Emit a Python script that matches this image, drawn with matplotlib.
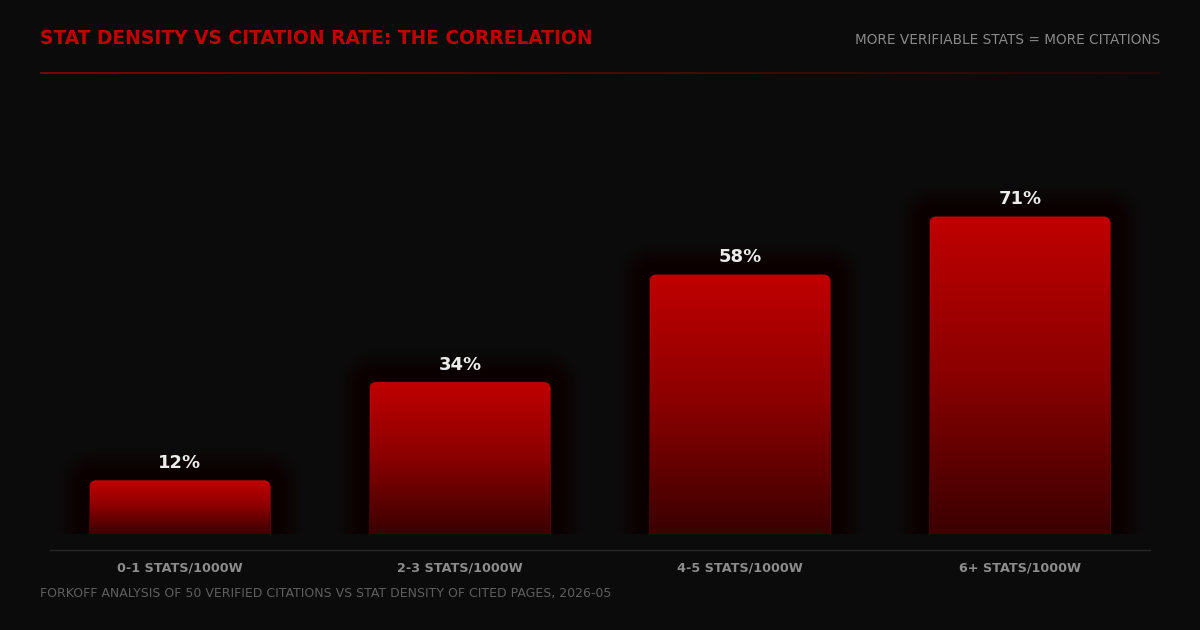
import numpy as np
import matplotlib
matplotlib.use("Agg")
import matplotlib.pyplot as plt
from matplotlib.patches import FancyBboxPatch
from matplotlib.colors import LinearSegmentedColormap, to_rgba
from matplotlib.collections import LineCollection
from matplotlib.lines import Line2D
from matplotlib.transforms import blended_transform_factory

# ---- data ----
categories = ["0-1 STATS/1000W", "2-3 STATS/1000W", "4-5 STATS/1000W", "6+ STATS/1000W"]
citation_rate = [12, 34, 58, 71]
value_labels = ["12%", "34%", "58%", "71%"]
title = "STAT DENSITY VS CITATION RATE: THE CORRELATION"
subtitle = "MORE VERIFIABLE STATS = MORE CITATIONS"
footer = "FORKOFF ANALYSIS OF 50 VERIFIED CITATIONS VS STAT DENSITY OF CITED PAGES, 2026-05"

W, H = 1200, 630
BG = "#0b0b0b"
RED = "#c00000"

fig = plt.figure(figsize=(W / 100, H / 100), dpi=100, facecolor=BG)

def fx(px):
    return px / W

def fy(py):
    return 1 - py / H

# axes: x from 40..1160 px, y baseline at 534 px, 100% at 87 px
ax = fig.add_axes([fx(40), fy(534), fx(1120), (534 - 87) / H])
ax.set_facecolor("none")
ax.set_xlim(-0.5, len(categories) - 0.5)
ax.set_ylim(0, 100)
ax.axis("off")

px_per_x = 1120 / len(categories)
px_per_y = 447 / 100.0
bar_w = 181 / px_per_x
radius_px = 7
aspect = px_per_x / px_per_y

x = np.arange(len(categories))
bars = ax.bar(x, citation_rate, width=bar_w, color="none", edgecolor="none")

cmap = LinearSegmentedColormap.from_list("barg", ["#3a0000", "#8a0000", "#c00000"])
grad = np.linspace(0, 1, 256).reshape(-1, 1)

N_GLOW = 24
for rect, val in zip(bars, citation_rate):
    x0 = rect.get_x()
    w = rect.get_width()
    h = rect.get_height()
    # soft glow layers (denser near the bar)
    for k in range(1, N_GLOW + 1):
        pad_px = 32 * (k / N_GLOW) ** 1.8
        gp = FancyBboxPatch((x0 - pad_px / px_per_x, -8), w + 2 * pad_px / px_per_x, h + 8 + pad_px / px_per_y,
                            boxstyle=f"round,pad=0,rounding_size={(radius_px + pad_px) / px_per_x}",
                            mutation_aspect=aspect, facecolor="#e00000", edgecolor="none",
                            alpha=0.0035, zorder=1)
        ax.add_patch(gp)
    patch = FancyBboxPatch((x0, -5), w, h + 5,
                           boxstyle=f"round,pad=0,rounding_size={radius_px / px_per_x}",
                           mutation_aspect=aspect, facecolor="none", edgecolor="none", zorder=2)
    ax.add_patch(patch)
    im = ax.imshow(grad, extent=(x0, x0 + w, 0, h), origin="lower", cmap=cmap,
                   aspect="auto", zorder=3, interpolation="bilinear")
    im.set_clip_path(patch)
    edge = FancyBboxPatch((x0, -5), w, h + 5,
                          boxstyle=f"round,pad=0,rounding_size={radius_px / px_per_x}",
                          mutation_aspect=aspect, facecolor="none", edgecolor="#a00000",
                          linewidth=0.6, alpha=0.45, zorder=4)
    ax.add_patch(edge)

for xi, val, lab in zip(x, citation_rate, value_labels):
    ax.annotate(lab, (xi, val), xytext=(0, 17.5 * 0.72), textcoords="offset points",
                ha="center", va="center", color="#ececec", fontsize=13,
                fontweight="heavy", family="DejaVu Sans", zorder=5)

trans = blended_transform_factory(ax.transData, fig.transFigure)
for xi, cat in zip(x, categories):
    ax.text(xi, fy(568), cat, transform=trans, ha="center", va="center",
            color="#8c8c8c", fontsize=9.2, fontweight="bold", family="DejaVu Sans")

# axis baseline
fig.add_artist(Line2D([fx(50), fx(1150)], [fy(550), fy(550)], color="#262626", lw=1.0))

# header gradient line
n = 300
xs = np.linspace(fx(40), fx(1160), n + 1)
segs = [[(xs[i], fy(73)), (xs[i + 1], fy(73))] for i in range(n)]
alphas = np.linspace(0.95, 0.2, n)
cols = [to_rgba("#a80000", a) for a in alphas]
lc = LineCollection(segs, colors=cols, linewidths=1.1, transform=fig.transFigure)
fig.add_artist(lc)

fig.text(fx(40), fy(38), title, ha="left", va="center", color=RED,
         fontsize=13.4, fontweight="bold", family="DejaVu Sans")
fig.text(fx(1160), fy(40), subtitle, ha="right", va="center", color="#8a8a8a",
         fontsize=9.8, family="DejaVu Sans")
fig.text(fx(40), fy(594), footer, ha="left", va="center", color="#5e5e5e",
         fontsize=9.0, family="DejaVu Sans")

fig.savefig("out.png", dpi=100, facecolor=BG)
